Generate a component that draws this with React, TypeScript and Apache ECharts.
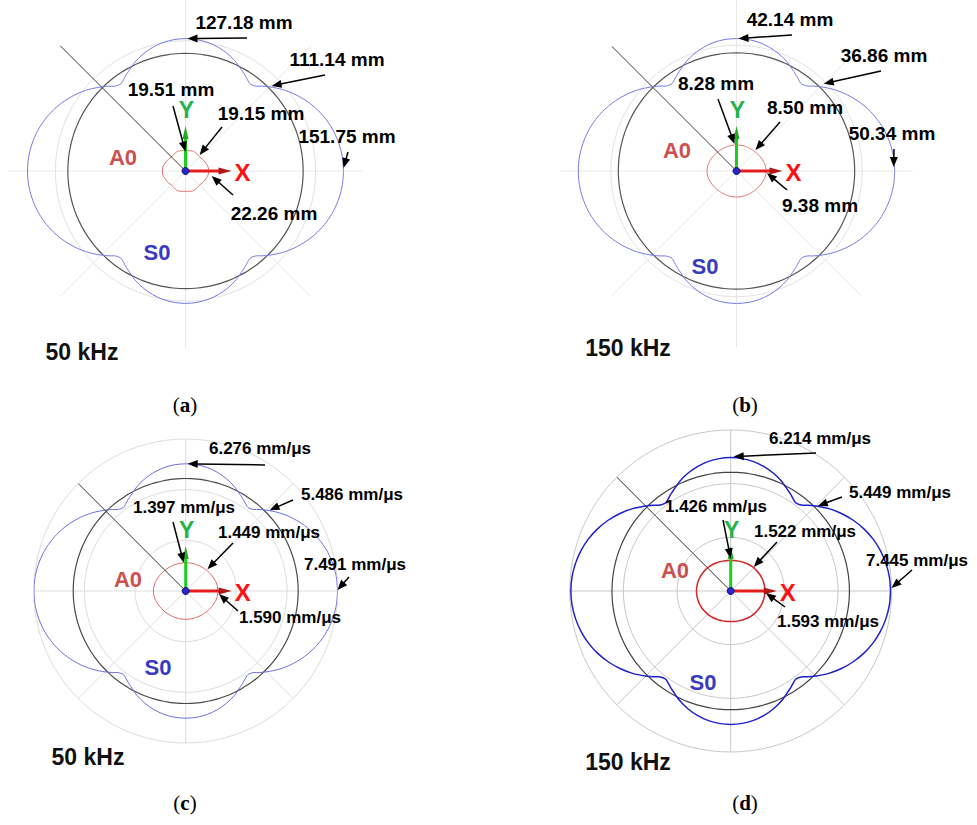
import React, { useEffect, useRef } from 'react';
import * as echarts from 'echarts';

// Angles (deg) of one quadrant; curves are symmetric about X and Y
const ANGLES_S0 = [0, 5, 10, 15, 20, 25, 30, 35, 40, 45, 48, 50, 52, 53, 54, 56, 58, 60, 65, 70, 75, 80, 85, 90];
const ANGLES_A0 = [0, 5, 10, 15, 20, 25, 30, 35, 40, 45, 50, 55, 60, 65, 70, 75, 80, 85, 90];

// (a) 50 kHz, wavefront distances (mm)
const S0_A = [151.75, 151.26, 149.72, 147.3, 143.92, 139.56, 134.36, 128.37, 121.69, 114.25, 109.61, 106.32, 104.6, 104.2, 104.4, 106.2, 108.2, 110.02, 115.19, 119.38, 122.74, 125.22, 126.65, 127.18];
const A0_A = [22.26, 22.2, 22.0, 21.6, 21.1, 20.6, 20.2, 19.8, 19.4, 19.15, 19.2, 19.5, 19.9, 20.2, 20.3, 20.1, 19.8, 19.6, 19.51];
const REF_A = 113;
// (b) 150 kHz, wavefront distances (mm)
const S0_B = [50.34, 50.18, 49.67, 48.87, 47.74, 46.3, 44.57, 42.58, 40.37, 37.9, 36.36, 35.27, 34.7, 34.56, 34.63, 35.23, 35.89, 36.5, 38.21, 39.6, 40.72, 41.54, 42.01, 42.14];
const A0_B = [9.38, 9.36, 9.3, 9.2, 9.08, 8.95, 8.82, 8.7, 8.58, 8.5, 8.42, 8.37, 8.33, 8.3, 8.29, 8.28, 8.28, 8.28, 8.28];
const REF_B = 37.6;
// (c) 50 kHz, group velocity (mm/us)
const S0_C = [7.491, 7.467, 7.391, 7.272, 7.104, 6.89, 6.633, 6.337, 6.007, 5.64, 5.411, 5.248, 5.163, 5.143, 5.153, 5.242, 5.341, 5.431, 5.686, 5.893, 6.059, 6.182, 6.252, 6.276];
const A0_C = [1.59, 1.587, 1.578, 1.563, 1.543, 1.52, 1.5, 1.48, 1.463, 1.449, 1.436, 1.425, 1.416, 1.408, 1.403, 1.4, 1.398, 1.397, 1.397];
const REF_C = 5.55;
// (d) 150 kHz, group velocity (mm/us)
const S0_D = [7.445, 7.421, 7.345, 7.227, 7.061, 6.847, 6.592, 6.298, 5.97, 5.605, 5.378, 5.216, 5.13, 5.11, 5.11, 5.19, 5.29, 5.378, 5.63, 5.835, 5.999, 6.121, 6.19, 6.214];
const A0_D = [1.593, 1.592, 1.589, 1.584, 1.577, 1.568, 1.557, 1.545, 1.533, 1.522, 1.509, 1.494, 1.479, 1.465, 1.452, 1.441, 1.433, 1.428, 1.426];
const REF_D = 5.53;

const LABELS_A = ['127.18 mm', '111.14 mm', '151.75 mm', '19.51 mm', '19.15 mm', '22.26 mm'];
const LABELS_B = ['42.14 mm', '36.86 mm', '50.34 mm', '8.28 mm', '8.50 mm', '9.38 mm'];
const LABELS_C = ['6.276 mm/μs', '5.486 mm/μs', '7.491 mm/μs', '1.397 mm/μs', '1.449 mm/μs', '1.590 mm/μs'];
const LABELS_D = ['6.214 mm/μs', '5.449 mm/μs', '7.445 mm/μs', '1.426 mm/μs', '1.522 mm/μs', '1.593 mm/μs'];
const FREQS = ['50 kHz', '150 kHz', '50 kHz', '150 kHz'];
const CAPTIONS = ['a', 'b', 'c', 'd'];
const MODES = ['A0', 'S0'];

const DATA = [
  { s0: S0_A, a0: A0_A, ref: REF_A, labels: LABELS_A },
  { s0: S0_B, a0: A0_B, ref: REF_B, labels: LABELS_B },
  { s0: S0_C, a0: A0_C, ref: REF_C, labels: LABELS_C },
  { s0: S0_D, a0: A0_D, ref: REF_D, labels: LABELS_D },
];

// which curve point each annotation arrow points at: [curve, angle]
const ANN_TARGETS: [string, number][] = [['s0', 90], ['s0', 45], ['s0', 0], ['a0', 90], ['a0', 45], ['a0', 0]];

// layout / style only
const LAYOUT = [
  {
    center: [185.5, 171], radius: 177, max: 170, interval: 125, diag: 188,
    rings: ['#eeeeee', '#e2e2e2', 'rgba(0,0,0,0)'], grid: '#e6e6e6',
    s0c: '#7878e4', s0w: 1, a0c: '#e07070', a0w: 1, refc: '#555555', fs: 19,
    ann: [
      { x: 244, y: 22, tail: [247, 38], d: [2, 0] },
      { x: 337, y: 59, tail: [325, 75], d: [2, -1] },
      { x: 347, y: 136, tail: [348, 152], d: [0, -3] },
      { x: 171, y: 89, tail: [173, 106], d: [0, 1] },
      { x: 261, y: 113, tail: [222, 127], d: [0, -2] },
      { x: 274, y: 213, tail: [233, 195], d: [3, 5] },
    ],
    a0t: [123, 157], s0t: [157, 252], freq: [82, 352], cap: [185, 405],
  },
  {
    center: [736.5, 171], radius: 176, max: 56, interval: 40, diag: 61,
    rings: ['#eeeeee', '#e4e4e4', 'rgba(0,0,0,0)'], grid: '#e6e6e6',
    s0c: '#7878e4', s0w: 1, a0c: '#e07070', a0w: 1, refc: '#555555', fs: 19,
    ann: [
      { x: 790, y: 19, tail: [792, 35], d: [2, 0] },
      { x: 884, y: 55, tail: [881, 71], d: [3, -3] },
      { x: 892, y: 133, tail: [894, 149], d: [-1, -4] },
      { x: 716, y: 83, tail: [718, 99], d: [-2, -1] },
      { x: 805, y: 107, tail: [780, 122], d: [0, -2] },
      { x: 820, y: 205, tail: [787, 190], d: [1, 2] },
    ],
    a0t: [677, 150], s0t: [705, 266], freq: [628, 348], cap: [745, 405],
  },
  {
    center: [185.7, 591], radius: 152, max: 7.5, interval: 2.5, diag: 7.5,
    rings: ['#dddddd'], grid: '#dddddd',
    s0c: '#6e6ee0', s0w: 1, a0c: '#e06060', a0w: 1, refc: '#4a4a4a', fs: 17,
    ann: [
      { x: 260, y: 448, tail: [265, 465], d: [2, 0] },
      { x: 352, y: 494, tail: [293, 500], d: [3, 0] },
      { x: 355, y: 564, tail: [349, 577], d: [0, -1] },
      { x: 184, y: 507, tail: [173, 522], d: [-2, 0] },
      { x: 269, y: 532, tail: [233, 543], d: [1, -1] },
      { x: 290, y: 617, tail: [238, 611], d: [1, 3] },
    ],
    a0t: [128, 579], s0t: [158, 667], freq: [88, 757], cap: [185, 803],
  },
  {
    center: [730.7, 591], radius: 161, max: 7.5, interval: 2.5, diag: 7.5,
    rings: ['#c8c8c8'], grid: '#c8c8c8',
    s0c: '#2020cc', s0w: 1.5, a0c: '#d02828', a0w: 1.5, refc: '#444444', fs: 17,
    ann: [
      { x: 820, y: 438, tail: [816, 453], d: [3, -1] },
      { x: 900, y: 492, tail: [842, 497], d: [2, 0] },
      { x: 917, y: 560, tail: [912, 570], d: [1, -3] },
      { x: 716, y: 506, tail: [723, 520], d: [0, -2] },
      { x: 805, y: 531, tail: [777, 542], d: [0, -1] },
      { x: 828, y: 621, tail: [785, 607], d: [1, 2] },
    ],
    a0t: [675, 570], s0t: [703, 682], freq: [628, 762], cap: [745, 803],
  },
];

function fullCurve(q: number[], ang: number[]): number[][] {
  const pts: number[][] = [];
  for (let i = 0; i < q.length; i++) pts.push([q[i], ang[i]]);
  for (let i = q.length - 2; i >= 0; i--) pts.push([q[i], 180 - ang[i]]);
  for (let i = 1; i < q.length; i++) pts.push([q[i], 180 + ang[i]]);
  for (let i = q.length - 2; i >= 0; i--) pts.push([q[i], 360 - ang[i]]);
  return pts;
}

function circle(r: number): number[][] {
  const pts: number[][] = [];
  for (let a = 0; a <= 360; a += 3) pts.push([r, a]);
  return pts;
}

const FONT = 'Arial, "Liberation Sans", sans-serif';

function arrow(tail: number[], tip: number[], color: string, lw: number, hl: number, hw: number) {
  const dx = tip[0] - tail[0];
  const dy = tip[1] - tail[1];
  const len = Math.sqrt(dx * dx + dy * dy) || 1;
  const ux = dx / len, uy = dy / len;
  const bx = tip[0] - ux * hl, by = tip[1] - uy * hl;
  return {
    type: 'group',
    children: [
      { type: 'line', shape: { x1: tail[0], y1: tail[1], x2: bx + ux * 1, y2: by + uy * 1 }, style: { stroke: color, lineWidth: lw }, z: 100 },
      {
        type: 'polygon',
        shape: { points: [[tip[0], tip[1]], [bx - uy * hw, by + ux * hw], [bx + uy * hw, by - ux * hw]] },
        style: { fill: color },
        z: 100,
      },
    ],
  };
}

export default function App() {
  const ref = useRef<HTMLDivElement>(null);
  useEffect(() => {
    if (!ref.current) return;
    const chart = echarts.init(ref.current, null, { renderer: 'svg' });
    const polar: any[] = [], angleAxis: any[] = [], radiusAxis: any[] = [], series: any[] = [];
    LAYOUT.forEach((L, p) => {
      const D = DATA[p];
      polar.push({ center: L.center, radius: L.radius });
      angleAxis.push({
        polarIndex: p, type: 'value', min: 0, max: 360, interval: 45, startAngle: 0, clockwise: false,
        axisLine: { show: false }, axisTick: { show: false }, axisLabel: { show: false },
        splitLine: { show: true, lineStyle: { color: L.grid, width: 1 } },
      });
      radiusAxis.push({
        polarIndex: p, type: 'value', min: 0, max: L.max, interval: L.interval,
        axisLine: { show: false }, axisTick: { show: false }, axisLabel: { show: false },
        splitLine: { show: true, lineStyle: { color: L.rings, width: 1 } },
      });
      series.push({
        type: 'line', coordinateSystem: 'polar', polarIndex: p, name: 'ref', data: circle(D.ref),
        showSymbol: false, symbol: 'none', smooth: true, clip: false, silent: true,
        lineStyle: { color: L.refc, width: 1.2 }, z: 3,
      });
      series.push({
        type: 'line', coordinateSystem: 'polar', polarIndex: p, name: 'S0', data: fullCurve(D.s0, ANGLES_S0),
        showSymbol: false, symbol: 'none', smooth: 0.3, clip: false, silent: true,
        lineStyle: { color: L.s0c, width: L.s0w }, z: 4,
      });
      series.push({
        type: 'line', coordinateSystem: 'polar', polarIndex: p, name: 'A0', data: fullCurve(D.a0, ANGLES_A0),
        showSymbol: false, symbol: 'none', smooth: 0.4, clip: false, silent: true,
        lineStyle: { color: L.a0c, width: L.a0w }, z: 4,
      });
      series.push({
        type: 'line', coordinateSystem: 'polar', polarIndex: p, name: 'diag', data: [[0, 135], [L.diag, 135]],
        showSymbol: false, symbol: 'none', clip: false, silent: true,
        lineStyle: { color: '#444444', width: 1 }, z: 5,
      });
    });

    chart.setOption({
      animation: false,
      backgroundColor: '#ffffff',
      polar, angleAxis, radiusAxis, series,
    });

    const graphics: any[] = [];
    LAYOUT.forEach((L, p) => {
      const D = DATA[p];
      const toPx = (r: number, a: number) => {
        const res = chart.convertToPixel({ polarIndex: p } as any, [r, a]) as any;
        if (res && isFinite(res[0])) return res as number[];
        const rr = (r / L.max) * L.radius;
        const rad = (a * Math.PI) / 180;
        return [L.center[0] + rr * Math.cos(rad), L.center[1] - rr * Math.sin(rad)];
      };
      const c = toPx(0, 0);
      L.ann.forEach((A, k) => {
        const [curve, angle] = ANN_TARGETS[k];
        const arr = curve === 's0' ? D.s0 : D.a0;
        const angs = curve === 's0' ? ANGLES_S0 : ANGLES_A0;
        const idx = angs.indexOf(angle);
        const tp = toPx(arr[idx], angle);
        const tip = [tp[0] + A.d[0], tp[1] + A.d[1]];
        graphics.push(arrow(A.tail, tip, '#000000', 1.5, 10, 4));
        graphics.push({
          type: 'text', x: A.x, y: A.y, z: 101,
          style: { text: D.labels[k], font: `bold ${L.fs}px ${FONT}`, fill: '#000000', align: 'center', verticalAlign: 'middle' },
        });
      });
      // X / Y direction arrows
      graphics.push({ type: 'line', shape: { x1: c[0], y1: c[1], x2: c[0] + 36, y2: c[1] }, style: { stroke: '#e51c1c', lineWidth: 3 }, z: 90 });
      graphics.push({ type: 'polygon', shape: { points: [[c[0] + 46, c[1]], [c[0] + 33, c[1] - 3.5], [c[0] + 33, c[1] + 3.5]] }, style: { fill: '#b01818' }, z: 90 });
      graphics.push({ type: 'line', shape: { x1: c[0], y1: c[1], x2: c[0], y2: c[1] - 34 }, style: { stroke: '#19d019', lineWidth: 3 }, z: 90 });
      graphics.push({ type: 'polygon', shape: { points: [[c[0], c[1] - 45], [c[0] - 3, c[1] - 32], [c[0] + 3, c[1] - 32]] }, style: { fill: '#22aa22' }, z: 90 });
      graphics.push({ type: 'circle', shape: { cx: c[0], cy: c[1], r: 3.5 }, style: { fill: '#2828c8', stroke: '#101070', lineWidth: 1 }, z: 95 });
      graphics.push({
        type: 'text', x: c[0] + 1, y: c[1] - 61, z: 96,
        style: { text: 'Y', font: `bold 23px ${FONT}`, fill: '#22b34a', align: 'center', verticalAlign: 'middle' },
      });
      graphics.push({
        type: 'text', x: c[0] + 57, y: c[1] + 1, z: 96,
        style: { text: 'X', font: `bold 24px ${FONT}`, fill: '#ff1010', align: 'center', verticalAlign: 'middle' },
      });
      graphics.push({
        type: 'text', x: L.a0t[0], y: L.a0t[1], z: 96,
        style: { text: MODES[0], font: `bold 22px ${FONT}`, fill: '#cc5050', align: 'center', verticalAlign: 'middle' },
      });
      graphics.push({
        type: 'text', x: L.s0t[0], y: L.s0t[1], z: 96,
        style: { text: MODES[1], font: `bold 22px ${FONT}`, fill: '#3a3abf', align: 'center', verticalAlign: 'middle' },
      });
      graphics.push({
        type: 'text', x: L.freq[0], y: L.freq[1], z: 96,
        style: { text: FREQS[p], font: `bold 23px ${FONT}`, fill: '#111111', align: 'center', verticalAlign: 'middle' },
      });
      graphics.push({
        type: 'text', x: L.cap[0], y: L.cap[1], z: 96,
        style: {
          text: `{p|(}{b|${CAPTIONS[p]}}{p|)}`, align: 'center', verticalAlign: 'middle',
          rich: {
            p: { font: '21px "Liberation Serif", "DejaVu Serif", serif', fill: '#000' },
            b: { font: 'bold 21px "Liberation Serif", "DejaVu Serif", serif', fill: '#000' },
          },
        },
      });
    });
    chart.setOption({ graphic: graphics });
    return () => chart.dispose();
  }, []);
  return (
    <div
      ref={ref}
      style={{ position: 'absolute', left: 0, top: 0, width: 977, height: 825, background: '#fff' }}
    />
  );
}
